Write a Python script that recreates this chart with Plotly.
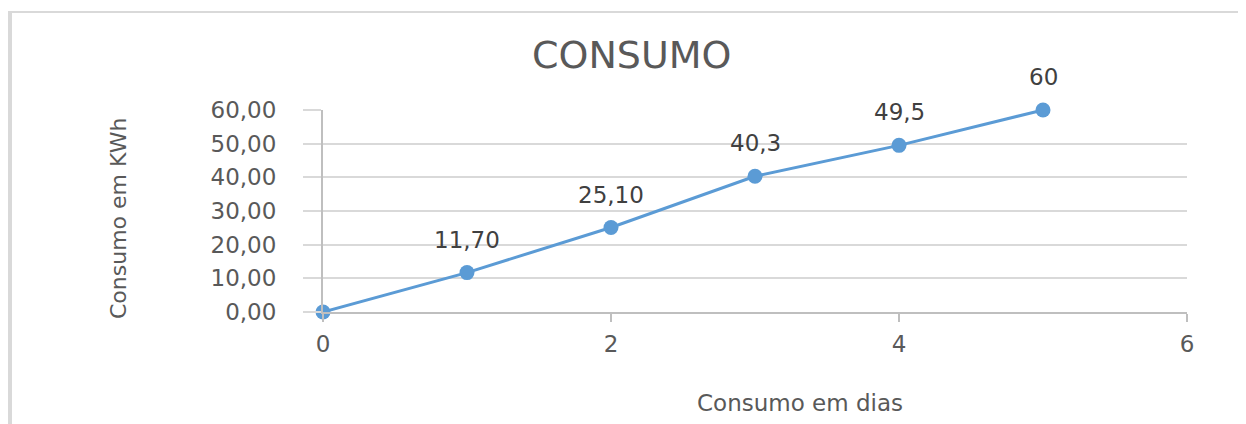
import plotly.graph_objects as go

dias = [0, 1, 2, 3, 4, 5]
consumo = [0, 11.7, 25.1, 40.3, 49.5, 60]
rotulos = ["", "11,70", "25,10", "40,3", "49,5", "60"]
y_ticks = [0, 10, 20, 30, 40, 50, 60]
y_tick_text = ["0,00", "10,00", "20,00", "30,00", "40,00", "50,00", "60,00"]
x_ticks = [0, 2, 4, 6]

# page has an 8px body margin; work in page pixel coordinates
OFF = 8
W, H = 1246 - OFF, 424 - OFF
L, T = 323 - OFF, 110 - OFF
R = W - (1187 - OFF)
B = H - (312 - OFF)
pw, ph = W - L - R, H - T - B


def px(x):
    return (x - OFF - L) / pw


def py(y):
    return (H - B - (y - OFF)) / ph


FONT = "DejaVu Sans"
GRID = "#D9D9D9"
AX = "#BFBFBF"
TXT = "#595959"

fig = go.Figure()
fig.add_trace(go.Scatter(
    x=dias, y=consumo, mode="lines+markers",
    line=dict(color="#5B9BD5", width=3),
    marker=dict(color="#5B9BD5", size=15),
    cliponaxis=False, showlegend=False, hoverinfo="x+y",
))

annotations = [
    dict(x=xv, y=yv, text=t, xref="x", yref="y", showarrow=False,
         xanchor="center", yanchor="middle", yshift=33,
         font=dict(family=FONT, size=23, color="#404040"))
    for xv, yv, t in zip(dias, consumo, rotulos) if t
]
annotations += [
    dict(text="CONSUMO", x=px(632), y=py(55), xref="paper", yref="paper",
         xanchor="center", yanchor="middle", showarrow=False,
         font=dict(family=FONT, size=38, color=TXT)),
    dict(text="Consumo em dias", x=px(800), y=py(403), xref="paper", yref="paper",
         xanchor="center", yanchor="middle", showarrow=False,
         font=dict(family=FONT, size=23, color=TXT)),
    dict(text="Consumo em KWh", x=px(118), y=py(219), xref="paper", yref="paper",
         xanchor="center", yanchor="middle", showarrow=False, textangle=-90,
         font=dict(family=FONT, size=22, color=TXT)),
]

fig.update_layout(
    width=W, height=H,
    margin=dict(l=L, r=R, t=T, b=B),
    paper_bgcolor="white", plot_bgcolor="white",
    font=dict(family=FONT, color=TXT),
    xaxis=dict(range=[0, 6], tickvals=x_ticks, showgrid=False, zeroline=False,
               showline=True, linecolor=AX, linewidth=2,
               ticks="outside", ticklen=8, tickwidth=2, tickcolor=AX,
               tickfont=dict(family=FONT, size=23, color=TXT),
               ticklabelstandoff=2),
    yaxis=dict(range=[0, 60], tickvals=y_ticks, ticktext=y_tick_text,
               showgrid=True, gridcolor=GRID, gridwidth=2, zeroline=False,
               showline=True, linecolor=AX, linewidth=2,
               ticks="outside", ticklen=18, tickwidth=2, tickcolor=GRID,
               tickfont=dict(family=FONT, size=23, color=TXT),
               ticklabelstandoff=22),
    annotations=annotations,
    shapes=[
        dict(type="line", xref="paper", yref="paper", x0=px(8), x1=px(1246),
             y0=py(12), y1=py(12), line=dict(color=GRID, width=2)),
        dict(type="line", xref="paper", yref="paper", x0=px(10), x1=px(10),
             y0=py(12), y1=py(424), line=dict(color=GRID, width=4)),
    ],
)

fig.write_html("out.html")
